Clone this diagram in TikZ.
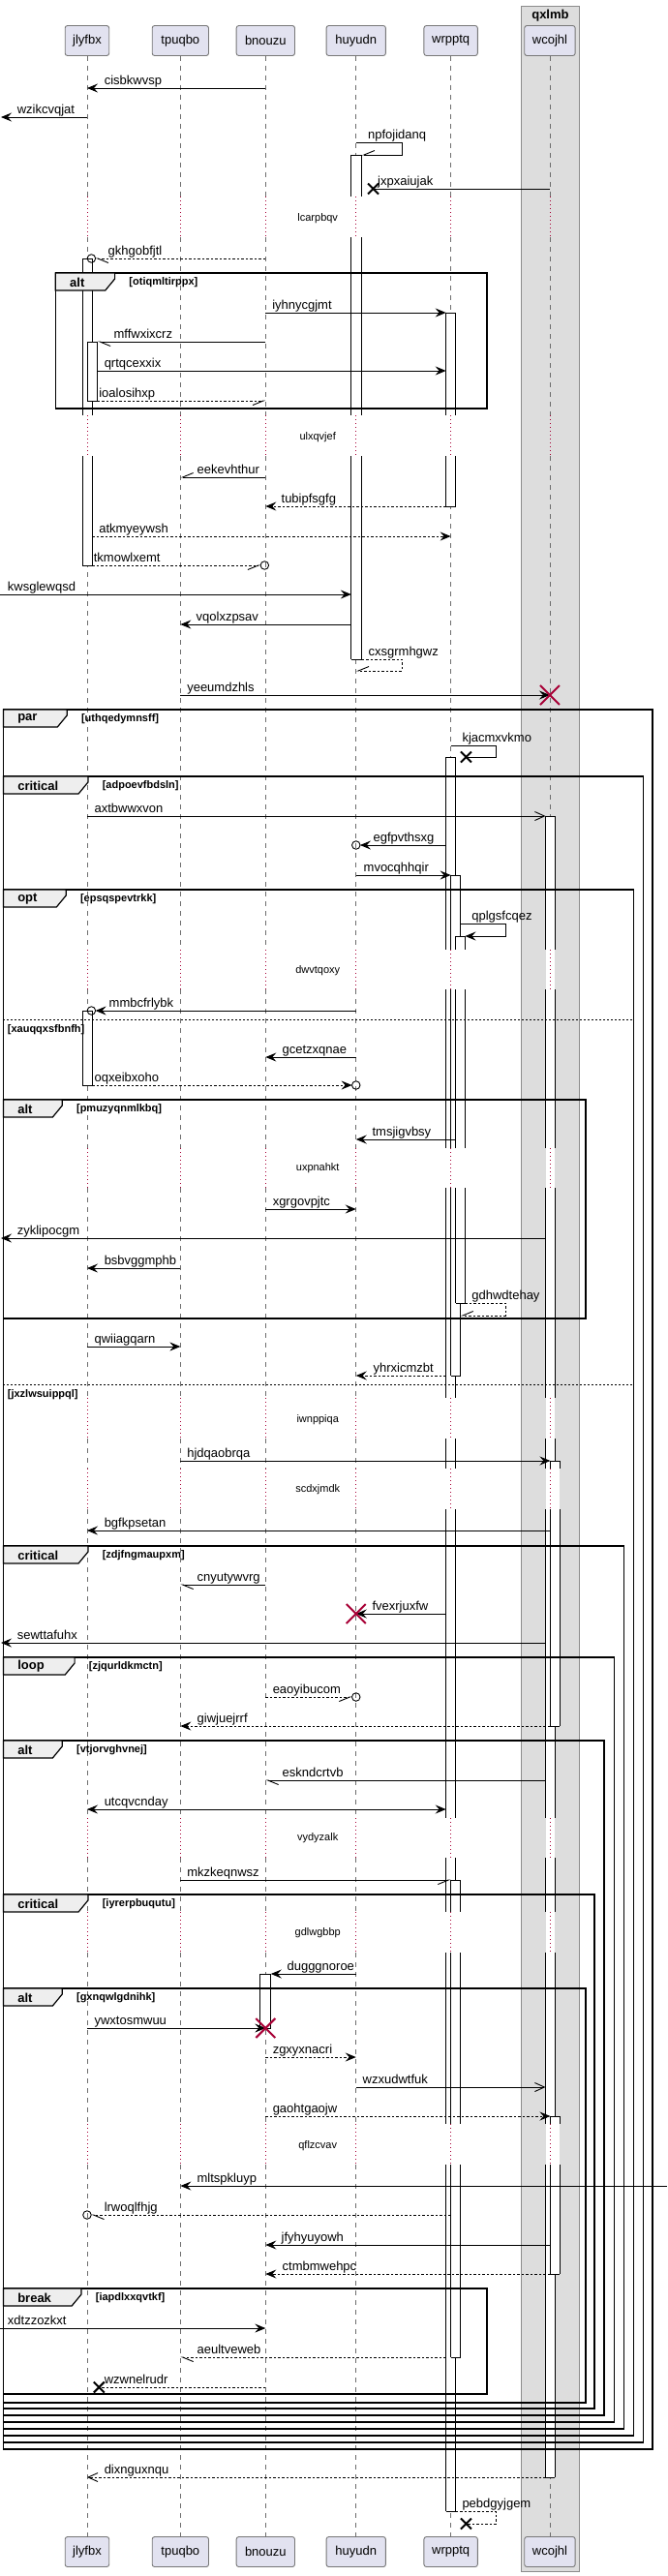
\documentclass[tikz,border=0pt]{standalone}
\usepackage{fontspec}
\setmainfont{Liberation Sans}
\usetikzlibrary{arrows.meta}
\definecolor{crim}{RGB}{168,0,54}
\definecolor{pfill}{RGB}{226,226,240}
\definecolor{pdraw}{RGB}{120,120,120}
\definecolor{bfill}{RGB}{221,221,221}
\definecolor{bdraw}{RGB}{140,140,140}
\definecolor{tfill}{RGB}{238,238,238}
\definecolor{lgray}{RGB}{110,110,110}
\tikzset{
 every node/.style={inner sep=0pt, outer sep=0pt},
 lbl/.style={anchor=base west, yshift=4pt, font=\fontsize{13}{15}\selectfont},
 dlbl/.style={font=\fontsize{11}{13}\selectfont},
 part/.style={draw=pdraw, fill=pfill, rounded corners=2.5pt, minimum height=31pt, line width=0.9pt, font=\fontsize{13}{15}\selectfont},
 msg/.style={line width=0.9pt, draw=black},
 dsh/.style={dash pattern=on 2.5pt off 2pt},
 fa/.style={-{Stealth[length=11pt,width=9pt,inset=4pt]}},
 fab/.style={{Stealth[length=11pt,width=9pt,inset=4pt]}-{Stealth[length=11pt,width=9pt,inset=4pt]}},
 oa/.style={-{Straight Barb[length=10pt,width=9pt]}},
 harpL/.style={-{Straight Barb[harpoon,length=11pt,width=9pt]}},
 harpR/.style={-{Straight Barb[harpoon,swap,length=11pt,width=9pt]}},
 actl/.style={draw=black, line width=0.9pt},
 frm/.style={draw=black, line width=1.5pt},
 frtab/.style={fill=tfill, draw=black, line width=1.2pt},
 kw/.style={anchor=west, font=\bfseries\fontsize{13}{15}\selectfont},
 cond/.style={anchor=west, font=\bfseries\fontsize{11}{13}\selectfont},
 lifel/.style={draw=lgray, line width=0.8pt, dash pattern=on 5pt off 5pt},
 dlyl/.style={draw=crim, line width=0.8pt, dash pattern=on 1pt off 3pt},
 circ/.style={circle, draw=black, line width=0.9pt, minimum size=8.5pt},
}
\newcommand\qqgrp[8]{%
 \draw[frm] (#1,#2) rectangle (#3,#4);
 \draw[frtab] (#1,#2) -- (#5,#2) -- (#5,#2+6) -- (#5-10,#2+18) -- (#1,#2+18) -- cycle;
 \node[kw] (#8k) at (#1+15,#2+9.5) {#6};
 \node[cond] (#8c) at (#5+15,#2+9.5) {#7};}
\newcommand\qqact[4]{\fill[white] (#1,#3) rectangle (#2,#4); \draw[actl] (#1,#3) -- (#2,#3) (#1,#4) -- (#2,#4);}
\newcommand\qqv[4]{\draw[actl] (#1,#3) -- (#1,#4) (#2,#3) -- (#2,#4);}
\newcommand\qqmsg[6]{%
 \coordinate (#5-a) at (#2,#4);
 \coordinate (#5-b) at (#3,#4);
 \draw[msg,#1] (#5-a) -- (#5-b);
 \node[lbl] (#5) at (#6,#4) {#5};}
\newcommand\qqself[8]{%
 \coordinate (#7-a) at (#2,#4);
 \coordinate (#7-b) at (#6,#5);
 \draw[msg,#1] (#7-a) -- (#3,#4) -- (#3,#5) -- (#7-b);
 \node[lbl] (#7) at (#8,#4) {#7};}
\newcommand\qqX[4]{\draw[line width=2pt,#4] ($(#1,#2)+(-#3pt,-#3pt)$) -- ($(#1,#2)+(#3pt,#3pt)$) ($(#1,#2)+(-#3pt,#3pt)$) -- ($(#1,#2)+(#3pt,-#3pt)$);}
\usetikzlibrary{calc}
\begin{document}
\begin{tikzpicture}[x=0.9886pt,y=-1pt]
\useasboundingbox (0,0) rectangle (696.95,2661);
\fill[white] (0,0) rectangle (696.95,2661);
% box
\draw[fill=bfill, draw=bdraw, line width=1pt] (545,6) rectangle (605,2656);
\node[font=\bfseries\fontsize{13}{15}\selectfont] (boxtitle) at (575,16) {qxlmb};
% participants
\node[part, minimum width=45.5pt] (pA) at (91,42) {jlyfbx};
\node[part, minimum width=58.3pt] (pB) at (188.5,42) {tpuqbo};
\node[part, minimum width=60.3pt] (pC) at (277.5,42) {bnouzu};
\node[part, minimum width=61.3pt] (pD) at (372,42) {huyudn};
\node[part, minimum width=55.4pt] (pE) at (471,42) {wrpptq};
\node[part, minimum width=52.4pt] (pF) at (574.5,42) {wcojhl};
\node[part, minimum width=45.5pt] (qA) at (91,2636) {jlyfbx};
\node[part, minimum width=58.3pt] (qB) at (188.5,2636) {tpuqbo};
\node[part, minimum width=60.3pt] (qC) at (277.5,2636) {bnouzu};
\node[part, minimum width=61.3pt] (qD) at (372,2636) {huyudn};
\node[part, minimum width=55.4pt] (qE) at (471,2636) {wrpptq};
\node[part, minimum width=52.4pt] (qF) at (574.5,2636) {wcojhl};
% lifelines
\foreach \x in {91,188.5,277.5,372,471,574.5}{
 \foreach \a/\b in {57.5/203,245/429,471/981,1022/1186,1227/1444,1486/1517,1559/1878,1919/1975,2017/2194,2236/2620.5}
  {\draw[lifel] (\x,\a) -- (\x,\b);}
}
% activations
\qqact{86}{96.4}{267}{584}
\foreach \a/\b in {267/429,471/584} {\qqv{86}{96.4}{\a}{\b}}
\qqact{91.5}{102}{353}{414}\qqv{91.5}{102}{353}{414}
\qqact{86}{96.4}{1044}{1121}\qqv{86}{96.4}{1044}{1121}
\qqact{272}{283}{2039}{2095}\qqv{272}{283}{2039}{2095}
\qqact{367}{378}{160}{681}
\foreach \a/\b in {160/203,245/429,471/681} {\qqv{367}{378}{\a}{\b}}
\qqact{466}{476}{323}{523}
\foreach \a/\b in {323/429,471/523} {\qqv{466}{476}{\a}{\b}}
\qqact{466}{476}{782}{2594}
\foreach \a/\b in {782/981,1022/1186,1227/1444,1486/1517,1559/1878,1919/1975,2017/2194,2236/2594} {\qqv{466}{476}{\a}{\b}}
\qqact{471}{481}{904}{1421}
\foreach \a/\b in {904/981,1022/1186,1227/1421} {\qqv{471}{481}{\a}{\b}}
\qqact{476}{486}{967}{1346}
\foreach \a/\b in {967/981,1022/1186,1227/1346} {\qqv{476}{486}{\a}{\b}}
\qqact{471}{481}{1942}{2435}
\foreach \a/\b in {1942/1975,2017/2194,2236/2435} {\qqv{471}{481}{\a}{\b}}
\qqact{570}{580}{843}{2559}
\foreach \a/\b in {843/981,1022/1186,1227/1444,1486/1517,1559/1878,1919/1975,2017/2194,2236/2559} {\qqv{570}{580}{\a}{\b}}
\qqact{575}{585}{1509}{1783}
\foreach \a/\b in {1509/1517,1559/1783} {\qqv{575}{585}{\a}{\b}}
\qqact{575}{585}{2186}{2349}
\foreach \a/\b in {2186/2194,2236/2349} {\qqv{575}{585}{\a}{\b}}
% delays
\foreach \x in {91,188.5,277.5,372,471,574.5}{
 \foreach \a/\b in {203/245,429/471,981/1022,1186/1227,1444/1486,1517/1559,1878/1919,1975/2017,2194/2236}
  {\draw[dlyl] (\x,\a) -- (\x,\b);}
}
\node[dlbl] (d1) at (332,226) {lcarpbqv};
\node[dlbl] (d2) at (332,452) {ulxqvjef};
\node[dlbl] (d3) at (332,1003) {dwvtqoxy};
\node[dlbl] (d4) at (332,1207) {uxpnahkt};
\node[dlbl] (d5) at (332,1467) {iwnppiqa};
\node[dlbl] (d6) at (332,1539) {scdxjmdk};
\node[dlbl] (d7) at (332,1899) {vydyzalk};
\node[dlbl] (d8) at (332,1997) {gdlwgbbp};
\node[dlbl] (d9) at (332,2217) {qflzcvav};
% frames
\qqgrp{58}{282}{509}{422}{120}{alt}{[otiqmltirppx]}{g1}
\qqgrp{3.5}{733}{682}{2530}{70}{par}{[uthqedymnsff]}{g2}
\qqgrp{3.5}{802}{672}{2523}{92}{critical}{[adpoevfbdsln]}{g3}
\qqgrp{3.5}{919}{662}{2516}{69}{opt}{[epsqspevtrkk]}{g4}
\qqgrp{3.5}{1136}{612}{1362}{65}{alt}{[pmuzyqnmlkbq]}{g5}
\qqgrp{3.5}{1597}{652}{2509}{92}{critical}{[zdjfngmaupxm]}{g6}
\qqgrp{3.5}{1712}{642}{2502}{78}{loop}{[zjqurldkmctn]}{g7}
\qqgrp{3.5}{1798}{631}{2495}{65}{alt}{[vtjorvghvnej]}{g8}
\qqgrp{3.5}{1957}{621}{2488}{92}{critical}{[iyrerpbuqutu]}{g9}
\qqgrp{3.5}{2054}{612}{2482}{65}{alt}{[gxnqwlgdnihk]}{g10}
\qqgrp{3.5}{2364}{509}{2473}{85}{break}{[iapdlxxqvtkf]}{g11}
\draw[line width=1pt, dash pattern=on 2pt off 2pt] (3.5,1053) -- (662,1053);
\node[cond, anchor=base west] (sep1) at (8,1066) {[xauqqxsfbnfh]};
\draw[line width=1pt, dash pattern=on 2pt off 2pt] (3.5,1430) -- (662,1430);
\node[cond, anchor=base west] (sep2) at (8,1443) {[jxzlwsuippql]};
% messages
\qqmsg{fa}{277.5}{91}{91}{cisbkwvsp}{109}
\qqmsg{fa}{91}{1}{121}{wzikcvqjat}{18}
\qqself{harpR}{372}{420}{147}{160}{378}{npfojidanq}{384.5}
\qqmsg{}{574.5}{390}{195}{jxpxaiujak}{394.7}
\qqX{390}{195}{5.5}{black}
\qqmsg{dsh,harpL}{277.5}{99.75}{267}{gkhgobfjtl}{113}
\node[circ] (c1) at (95.5,267) {};
\qqmsg{fa}{277.5}{466}{323}{iyhnycgjmt}{284.5}
\qqmsg{harpL}{277.5}{102}{353}{mffwxixcrz}{119}
\qqmsg{fa}{102}{466}{383}{qrtqcexxix}{109}
\qqmsg{dsh,harpR}{102}{277.5}{414}{ioalosihxp}{103.5}
\qqmsg{harpR}{277.5}{188.5}{493}{eekevhthur}{206}
\qqmsg{dsh,fa}{466}{277.5}{523}{tubipfsgfg}{294}
\qqmsg{dsh,fa}{96.4}{471}{554}{atkmyeywsh}{103.5}
\qqmsg{dsh,harpR}{96.4}{272.3}{584}{tkmowlxemt}{98}
\node[circ] (c2) at (276.5,584) {};
\qqmsg{fa}{0}{367}{614}{kwsglewqsd}{8}
\qqmsg{fa}{367}{188.5}{645}{vqolxzpsav}{205}
\qqself{dsh,harpR}{378}{420}{681}{693}{372}{cxsgrmhgwz}{385}
\qqmsg{fa}{188.5}{574.5}{718}{yeeumdzhls}{195.5}
\qqX{574.5}{718}{10}{crim}
\qqself{}{471}{518}{770}{782}{487}{kjacmxvkmo}{483}
\qqX{487}{782}{5.5}{black}
\qqmsg{oa}{91}{570}{843}{axtbwwxvon}{98.7}
\qqmsg{fa}{466}{376.2}{873}{egfpvthsxg}{390}
\node[circ] (c3) at (372,873) {};
\qqmsg{fa}{372}{471}{904}{mvocqhhqir}{380}
\qqself{fa}{481}{528}{954}{967}{486}{qplgsfcqez}{493}
\qqmsg{fa}{372}{99.75}{1044}{mmbcfrlybk}{114}
\node[circ] (c4) at (95.5,1044) {};
\qqmsg{fa}{372}{277.5}{1092}{gcetzxqnae}{295}
\qqmsg{dsh,fa}{96.4}{367.8}{1121}{oqxeibxoho}{98.7}
\node[circ] (c5) at (372,1121) {};
\qqmsg{fa}{476}{372}{1177}{tmsjigvbsy}{389}
\qqmsg{fa}{277.5}{372}{1249}{xgrgovpjtc}{285}
\qqmsg{fa}{570}{1}{1279}{zyklipocgm}{18}
\qqmsg{fa}{188.5}{91}{1310}{bsbvggmphb}{109}
\qqself{dsh,harpR}{486}{528}{1346}{1359}{481}{gdhwdtehay}{493}
\qqmsg{fa}{91}{188.5}{1391}{qwiiagqarn}{98.7}
\qqmsg{dsh,fa}{466}{372}{1421}{yhrxicmzbt}{390}
\qqmsg{fa}{188.5}{575}{1509}{hjdqaobrqa}{195.5}
\qqmsg{fa}{575}{91}{1581}{bgfkpsetan}{109}
\qqmsg{harpL}{277.5}{188.5}{1637}{cnyutywvrg}{206}
\qqmsg{fa}{466}{372}{1667}{fvexrjuxfw}{389}
\qqX{372}{1667}{10}{crim}
\qqmsg{fa}{570}{1}{1697}{sewttafuhx}{18}
\qqmsg{dsh,harpR}{277.5}{367.8}{1753}{eaoyibucom}{285}
\node[circ] (c6) at (372,1753) {};
\qqmsg{dsh,fa}{575}{188.5}{1783}{giwjuejrrf}{206}
\qqmsg{harpL}{570}{277.5}{1839}{eskndcrtvb}{295}
\qqmsg{fab}{91}{466}{1869}{utcqvcnday}{109}
\qqmsg{harpR}{188.5}{471}{1942}{mkzkeqnwsz}{195.5}
\qqmsg{fa}{372}{283}{2039}{dugggnoroe}{300}
\qqmsg{fa}{91}{277.5}{2095}{ywxtosmwuu}{98.7}
\qqX{277.5}{2095}{10}{crim}
\qqmsg{dsh,fa}{277.5}{372}{2125}{zgxyxnacri}{285}
\qqmsg{oa}{372}{570}{2156}{wzxudwtfuk}{379}
\qqmsg{dsh,fa}{277.5}{575}{2186}{gaohtgaojw}{285}
\qqmsg{fa}{696.95}{188.5}{2258}{mltspkluyp}{206}
\qqmsg{dsh,harpL}{471}{95.3}{2288}{lrwoqlfhjg}{109}
\node[circ] (c7) at (91,2288) {};
\qqmsg{fa}{575}{277.5}{2319}{jfyhyuyowh}{294}
\qqmsg{dsh,fa}{575}{277.5}{2349}{ctmbmwehpc}{295}
\qqmsg{fa}{0}{277.5}{2405}{xdtzzozkxt}{8}
\qqmsg{dsh,harpL}{466}{188.5}{2435}{aeultveweb}{206}
\qqmsg{dsh}{277.5}{103.5}{2466}{wzwnelrudr}{109}
\qqX{103.5}{2466}{5.5}{black}
\qqmsg{dsh,oa}{570}{91}{2559}{dixnguxnqu}{109}
\qqself{dsh}{476}{518}{2594}{2607}{487}{pebdgyjgem}{483}
\qqX{487}{2607}{5.5}{black}
\end{tikzpicture}
\end{document}
